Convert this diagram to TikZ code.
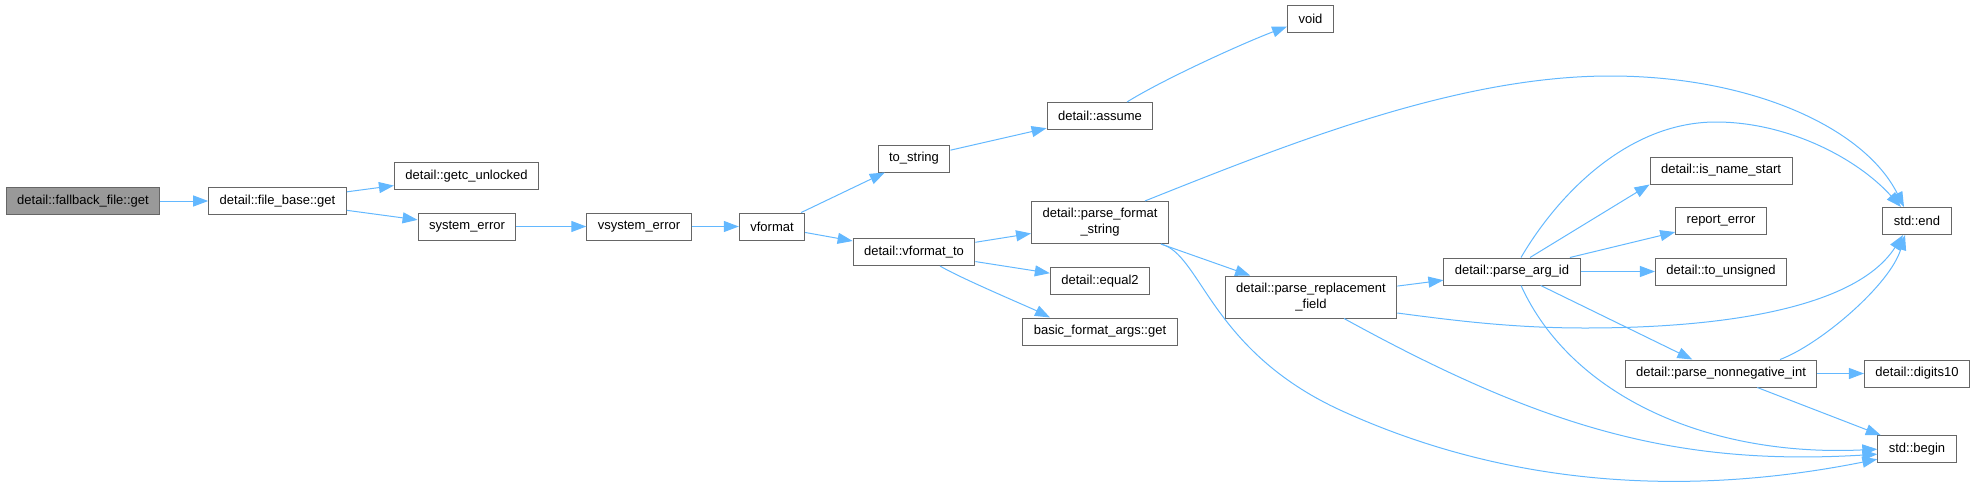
\documentclass[tikz,border=0pt]{standalone}
\usepackage{fontspec}
\setmainfont{Liberation Sans}
\usetikzlibrary{arrows.meta}
\definecolor{edgec}{RGB}{99,184,255}
\definecolor{borderc}{RGB}{102,102,102}
\definecolor{rootc}{RGB}{153,153,153}

\begin{document}
\begin{tikzpicture}[
  x=1pt, y=-1pt,
  >={Triangle[length=15pt,width=11pt]},
  fn/.style={
    rectangle, draw=borderc, fill=white, line width=1pt,
    inner xsep=11pt, inner ysep=7pt, minimum height=27pt,
    align=center, font=\fontsize{13}{16}\selectfont
  },
  root/.style={fn, fill=rootc},
  arr/.style={->, line width=1pt, draw=edgec},
]
\useasboundingbox (0,0) rectangle (1975,490);

% ---- left part: file access ----
\node[root] (fallback) at (83, 201) {detail::fallback\_file::get};
\node[fn] (filebase) at (277.5, 201) {detail::file\_base::get};
\node[fn] (getc) at (466.5, 176) {detail::getc\_unlocked};
\node[fn] (syserr) at (467, 226.5) {system\_error};
\node[fn] (vsyserr) at (639, 226.5) {vsystem\_error};
\node[fn] (vformat) at (772, 226.5) {vformat};

% ---- middle columns ----
\node[fn] (tostring) at (914, 158.5) {to\_string};
\node[fn] (vformatto) at (914, 252) {detail::vformat\_to};
\node[fn] (assume) at (1100, 116) {detail::assume};
\node[fn] (void) at (1310.5, 18.5) {void};
\node[fn] (pfs) at (1100, 222.5) {detail::parse\_format\\\_string};
\node[fn] (equal2) at (1100, 281) {detail::equal2};
\node[fn] (basicget) at (1100, 331.5) {basic\_format\_args::get};
\node[fn] (prf) at (1311, 297) {detail::parse\_replacement\\\_field};
\node[fn] (argid) at (1512, 271.5) {detail::parse\_arg\_id};

% ---- right columns ----
\node[fn] (isname) at (1721, 170.5) {detail::is\_name\_start};
\node[fn] (reperr) at (1721, 221) {report\_error};
\node[fn] (tounsigned) at (1721, 271.5) {detail::to\_unsigned};
\node[fn] (nonneg) at (1721, 373.5) {detail::parse\_nonnegative\_int};
\node[fn] (stdend) at (1917, 221) {std::end};
\node[fn] (digits10) at (1917, 373.5) {detail::digits10};
\node[fn] (stdbegin) at (1917, 449.2) {std::begin};

% ---- calls: left part ----
\draw[arr] (fallback) -- (filebase);
\draw[arr] (filebase) -- (getc);
\draw[arr] (filebase) -- (syserr);
\draw[arr] (syserr) -- (vsyserr);
\draw[arr] (vsyserr) -- (vformat);
\draw[arr] (vformat) -- (tostring);
\draw[arr] (vformat) -- (vformatto);
\draw[arr] (tostring) -- (assume);
\draw[arr] ([xshift=27pt]assume.north) .. controls +(35,-22) and +(-45,17) .. ([yshift=6pt]void.south west);

% ---- calls: vformat_to ----
\draw[arr] (vformatto) -- (pfs);
\draw[arr] (vformatto) -- (equal2);
\draw[arr] ([xshift=26pt]vformatto.south) .. controls +(20,12) and +(-20,-10) .. ([xshift=-50pt]basicget.north);

% ---- calls: parse_format_string ----
\draw[arr] (pfs) -- (prf);
\draw[arr] ([xshift=45pt]pfs.north) .. controls +(150,-60) and +(-150,0) .. (1610,76)
  .. controls +(140,0) and +(-40,-80) .. ([xshift=-13pt]stdend.north);
\draw[arr] ([xshift=61pt]pfs.south) .. controls +(40,10) and +(-130,-60) .. (1340,410)
  .. controls +(190,87) and +(-160,32) .. ([yshift=-10pt]stdbegin.west);

% ---- calls: parse_replacement_field ----
\draw[arr] (prf) -- (argid);
\draw[arr] ([yshift=-16pt]prf.east) .. controls +(60,8) and +(-70,0) .. (1585,328)
  .. controls +(150,0) and +(-45,70) .. ([xshift=-14pt]stdend.south);
\draw[arr] ([xshift=33pt]prf.south) .. controls +(200,110) and +(-200,12) .. ([yshift=-5pt]stdbegin.west);

% ---- calls: parse_arg_id ----
\draw[arr] ([xshift=18pt]argid.north) -- (isname.south west);
\draw[arr] (argid) -- (reperr);
\draw[arr] (argid) -- (tounsigned);
\draw[arr] (argid) -- (nonneg);
\draw[arr] ([xshift=9pt]argid.north) .. controls +(35,-60) and +(-90,0) .. (1716,122)
  .. controls +(70,0) and +(-45,-50) .. ([xshift=-16pt]stdend.north);
\draw[arr] ([xshift=9pt]argid.south) .. controls +(50,110) and +(-170,8) .. (stdbegin.west);

% ---- calls: parse_nonnegative_int ----
\draw[arr] (nonneg) -- (digits10);
\draw[arr] (nonneg) -- (stdbegin);
\draw[arr] ([xshift=59pt]nonneg.north) .. controls +(40,-15) and +(-15,50) .. ([xshift=-12pt]stdend.south);

\end{tikzpicture}
\end{document}
